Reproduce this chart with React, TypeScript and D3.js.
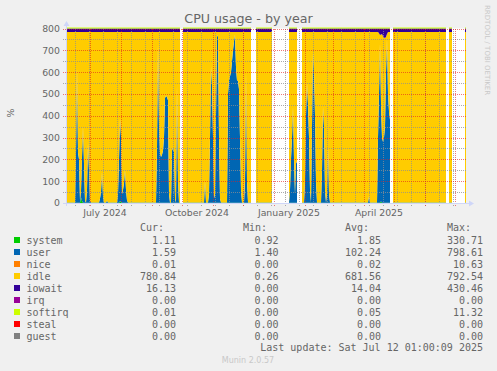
import React from 'react';
import * as d3 from 'd3';

const W = 497;
const H = 371;

// munin "by year": 400 days, one pixel per day
const rangeStart = new Date(Date.UTC(2024, 5, 7, 1, 0, 0));
const rangeDays = 400;
const cpuTotal = 800; // 8 cores, stack always tops out here

const seriesNames = ['system', 'user', 'nice', 'idle', 'iowait', 'irq', 'softirq', 'steal', 'guest'];
const seriesColors = ['#00CC00', '#0066B3', '#FF8000', '#FFCC00', '#330099', '#990099', '#CCFF00', '#FF0000', '#808080'];

const curValues = ['1.11', '1.59', '0.01', '780.84', '16.13', '0.00', '0.01', '0.00', '0.00'];
const minValues = ['0.92', '1.40', '0.00', '0.26', '0.00', '0.00', '0.00', '0.00', '0.00'];
const avgValues = ['1.85', '102.24', '0.02', '681.56', '14.04', '0.00', '0.05', '0.00', '0.00'];
const maxValues = ['330.71', '798.61', '10.63', '792.54', '430.46', '0.00', '11.32', '0.00', '0.00'];

const yTicks = [0, 100, 200, 300, 400, 500, 600, 700, 800];

// quiet-day levels
const baseSystem = 1.1;
const baseUser = 1.6;
const baseNice = 0.02;
const baseIowait = 16;
const baseSoftirq = 0.05;

// [day in range, value]
const userPeaks: [number, number][] = [
  [10, 220], [11, 620], [12, 230], [13, 200], [14, 10],
  [15, 30], [16, 200], [17, 350], [18, 180], [19, 10],
  [21, 60], [22, 270], [23, 150], [24, 10],
  [34, 20], [35, 50], [36, 140], [37, 30],
  [41, 10],
  [52, 40], [53, 200], [54, 380], [55, 300], [56, 40],
  [57, 60], [58, 90], [59, 150], [60, 60], [61, 10],
  [91, 250], [92, 730], [93, 350], [94, 230], [95, 210], [96, 220], [97, 240], [98, 300],
  [99, 480], [100, 490], [101, 485], [102, 470], [103, 40],
  [106, 240], [107, 250], [108, 230], [109, 20],
  [111, 540], [112, 100],
  [139, 100],
  [143, 40], [144, 300], [145, 625], [146, 540], [147, 300], [148, 20],
  [149, 40], [150, 400], [151, 760], [152, 770], [153, 300], [154, 20],
  [162, 500], [163, 560], [164, 580], [165, 600], [166, 650], [167, 700], [168, 740],
  [169, 770], [170, 620], [171, 560], [172, 560], [173, 520], [174, 300], [175, 60],
  [179, 100], [180, 600], [181, 100],
  [224, 60], [225, 200], [226, 300], [227, 440], [228, 200], [229, 40], [230, 190], [231, 180],
  [239, 100], [240, 400], [241, 550], [242, 450], [243, 300], [244, 60],
  [246, 350], [247, 690], [248, 600], [249, 400], [250, 100],
  [256, 150], [257, 440], [258, 350], [259, 60],
  [261, 40], [262, 258], [263, 40],
  [303, 30],
  [312, 300], [313, 500], [314, 730], [315, 450], [316, 300], [317, 280], [318, 300],
  [319, 350], [320, 600], [321, 750], [322, 500], [323, 420], [324, 380],
];

const systemPeaks: [number, number][] = [
  [15, 25], [16, 10], [54, 8], [55, 5], [315, 8],
];

const iowaitPeaks: [number, number][] = [
  [313, 22], [314, 30], [315, 28], [316, 25], [317, 35], [318, 40], [319, 45], [320, 38], [321, 25],
];

// days with no data (white canvas)
const noDataRanges: [number, number][] = [
  [115, 116], [186, 189], [207, 222], [232, 235], [325, 326], [381, 382], [387, 398],
];

type Row = { date: Date; ok: boolean } & Record<string, number>;

function buildRows(): Row[] {
  const userMap = new Map(userPeaks);
  const sysMap = new Map(systemPeaks);
  const ioMap = new Map(iowaitPeaks);
  const rows: Row[] = [];
  for (let d = 0; d <= rangeDays; d++) {
    const ok = !noDataRanges.some(([a, b]) => d >= a && d <= b);
    const r: any = { date: d3.utcDay.offset(rangeStart, d), ok };
    r.system = sysMap.get(d) ?? baseSystem;
    r.user = userMap.get(d) ?? baseUser;
    r.nice = baseNice;
    r.iowait = ioMap.get(d) ?? baseIowait;
    r.irq = 0;
    r.softirq = baseSoftirq;
    r.steal = 0;
    r.guest = 0;
    r.idle = cpuTotal - r.system - r.user - r.nice - r.iowait - r.softirq;
    rows.push(r);
  }
  return rows;
}

const rows = buildRows();

export default function App() {
  const end = d3.utcDay.offset(rangeStart, rangeDays);
  const x = d3.scaleUtc().domain([rangeStart, end]).range([66, 466]);
  const y = d3.scaleLinear().domain([0, 800]).range([203, 28.5]);

  const stack = d3.stack<Row>().keys(seriesNames).value((r, k) => (r.ok ? r[k] : 0));
  const layers = stack(rows);

  const area = d3.area<any>()
    .defined(d => d.data.ok)
    .x(d => x(d.data.date))
    .y0(d => y(d[0]))
    .y1(d => y(d[1]))
    .curve(d3.curveLinear);

  const topLine = d3.line<any>()
    .defined(d => d.data.ok)
    .x(d => x(d.data.date))
    .y(d => y(d[1]) - 0.5);

  const months = d3.utcMonth.range(d3.utcMonth.ceil(rangeStart), end);
  const labelMonths = months.filter(m => m.getUTCMonth() % 3 === 0 && d3.utcDay.offset(m, 15) < end);
  const minorDays = d3.utcWeek.range(new Date(Date.UTC(2024, 5, 10)), end, 2);
  const fmt = d3.utcFormat('%B %Y');

  const mgrid = 'rgba(225,30,30,0.6)';
  const grid = 'rgba(143,143,143,0.75)';
  const axisCol = '#CFD6F8';
  const font = 'DejaVu Sans, sans-serif';
  const mono = 'DejaVu Sans Mono, monospace';
  const px = (v: number) => Math.round(v) + 0.5;

  return (
    <svg width={W} height={H} style={{ position: 'absolute', left: 0, top: 0, display: 'block' }}>
      <rect width={W} height={H} fill="#F0F0F0" />
      <rect x={66} y={28.5} width={400} height={174.5} fill="#fff" />

      {layers.map((layer, i) => (
        <path key={layer.key} d={area(layer) || ''} fill={seriesColors[i]} />
      ))}
      <path d={topLine(layers[layers.length - 1]) || ''} fill="none" stroke="#CCFF00" strokeWidth={1} />

      <g shapeRendering="crispEdges">
        {/* minor grid */}
        {d3.range(50, 800, 100).map(v => (
          <line key={'hm' + v} x1={63} x2={466} y1={px(y(v))} y2={px(y(v))}
            stroke={grid} strokeDasharray="1,1" />
        ))}
        {minorDays.map(dt => (
          <line key={'vm' + +dt} x1={px(x(dt))} x2={px(x(dt))} y1={29} y2={206}
            stroke={grid} strokeDasharray="1,1" />
        ))}
        {/* major grid */}
        {yTicks.map(v => (
          <line key={'h' + v} x1={63} x2={466} y1={px(y(v))} y2={px(y(v))}
            stroke={mgrid} strokeDasharray="1,1" />
        ))}
        {months.map(dt => (
          <line key={'v' + +dt} x1={px(x(dt))} x2={px(x(dt))} y1={29} y2={206}
            stroke={mgrid} strokeDasharray="1,1" />
        ))}
        {/* axes */}
        <line x1={63} x2={470} y1={203.5} y2={203.5} stroke={axisCol} />
        <line x1={66.5} x2={66.5} y1={206} y2={25} stroke={axisCol} />
      </g>
      <path d="M469,200.5 L474,203.5 L469,206.5 Z" fill={axisCol} />
      <path d="M63.5,26 L66.5,21 L69.5,26 Z" fill={axisCol} />

      {yTicks.map(v => (
        <text key={'yl' + v} x={60} y={y(v) + 3.4} textAnchor="end" fontFamily={font} fontSize={9.33} fill="#666">
          {v}
        </text>
      ))}
      {labelMonths.map(m => {
        const mid = d3.utcDay.offset(m, 15);
        return (
          <text key={'xl' + +m} x={x(mid)} y={216} textAnchor="middle" fontFamily={font} fontSize={9.33} fill="#666">
            {fmt(m)}
          </text>
        );
      })}

      <text x={248.5} y={22.5} textAnchor="middle" fontFamily={font} fontSize={12.67} fill="#666">
        CPU usage - by year
      </text>
      <text transform="translate(13.5,113) rotate(-90)" textAnchor="middle" fontFamily={font} fontSize={9.33} fill="#666">
        %
      </text>
      <text transform="translate(485,5) rotate(90)" textAnchor="start" fontFamily={font} fontSize={7} fill="#C8C8C8">
        RRDTOOL / TOBI OETIKER
      </text>

      {/* legend */}
      {['Cur:', 'Min:', 'Avg:', 'Max:'].map((h, j) => (
        <text key={h} x={[164, 267, 369, 471][j]} y={231} textAnchor="end" fontFamily={mono} fontSize={10} fill="#666">
          {h}
        </text>
      ))}
      {seriesNames.map((name, i) => {
        const by = 243.5 + i * 12;
        const cols = [curValues[i], minValues[i], avgValues[i], maxValues[i]];
        return (
          <g key={name}>
            <rect x={14} y={by - 6.5} width={6} height={6} fill={seriesColors[i]} />
            <text x={26.5} y={by} fontFamily={mono} fontSize={10} fill="#666">{name}</text>
            {cols.map((v, j) => (
              <text key={j} x={[176, 278.5, 381, 483][j]} y={by} textAnchor="end" fontFamily={mono} fontSize={10} fill="#666">
                {v}
              </text>
            ))}
          </g>
        );
      })}
      <text x={483} y={351} textAnchor="end" fontFamily={mono} fontSize={10} fill="#666">
        Last update: Sat Jul 12 01:00:09 2025
      </text>
      <text x={248} y={363} textAnchor="middle" fontFamily={font} fontSize={8} fill="#C8C8C8">
        Munin 2.0.57
      </text>
    </svg>
  );
}
